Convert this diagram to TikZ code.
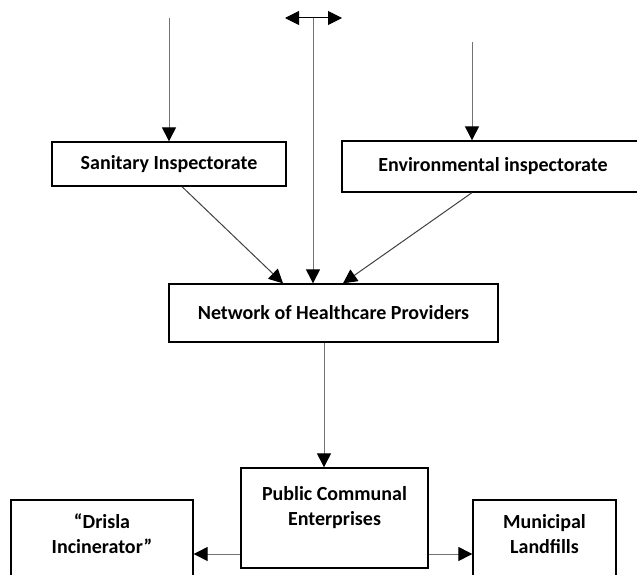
\documentclass[tikz,border=0pt]{standalone}
\usepackage{fontspec}
\setmainfont{Carlito}
\usetikzlibrary{arrows.meta,positioning}

\begin{document}
\begin{tikzpicture}[x=1pt, y=-1pt,
  box/.style={draw=black, line width=1.3pt, align=center, inner sep=0pt,
    font=\bfseries\fontsize{20}{25}\selectfont},
  arr/.style={black!55, line width=1pt, -{Triangle[width=14pt,length=14pt,color=black]}},
  dbl/.style={black, line width=1pt, {Triangle[width=14pt,length=14pt]}-{Triangle[width=14pt,length=14pt]}}]
\useasboundingbox (0,0) rectangle (637,575);
% boxes
\node[box, minimum width=234pt, minimum height=44pt] (san) at (169,164) {Sanitary Inspectorate};
\node[box, minimum width=302pt, minimum height=51pt] (env) at (493,166.5) {Environmental inspectorate};
\node[box, minimum width=329pt, minimum height=58pt] (net) at (333.5,313) {Network of Healthcare Providers};
\node[box, minimum width=187pt, minimum height=100pt] (pub) at (334.5,518) {Public Communal\\Enterprises\\~};
\node[box, minimum width=182pt, minimum height=92pt] (dri) at (102,546) {“Drisla\\Incinerator”\\~};
\node[box, minimum width=143pt, minimum height=92pt] (mun) at (544.5,546) {Municipal\\Landfills\\~};
% free ends at the top
\coordinate (s0) at (169,18); \coordinate (m0) at (313,18);
\coordinate (e0) at (472,42);
\coordinate (ml) at (285,18); \coordinate (mr) at (342,18);
% incoming arrows
\draw[arr] (s0) -- (san.north);
\draw[arr] (e0) -- (e0 |- env.north);
\draw[arr] (m0) -- (m0 |- net.north);
\draw[dbl] (ml) -- (mr);
% inspectorates to network
\draw[arr, black!75] ([xshift=13pt]san.south) -- ([xshift=-50.5pt]net.north);
\draw[arr, black!75] (e0 |- env.south) -- ([xshift=9.5pt]net.north);
% network to enterprises and on
\draw[arr] ([xshift=-9.5pt]net.south) -- ([xshift=-9.5pt]net.south |- pub.north);
\draw[arr] ([yshift=-36pt]pub.west) -- ([yshift=-36pt]pub.west -| dri.east);
\draw[arr] ([yshift=-36pt]pub.east) -- ([yshift=-36pt]pub.east -| mun.west);
\end{tikzpicture}
\end{document}
